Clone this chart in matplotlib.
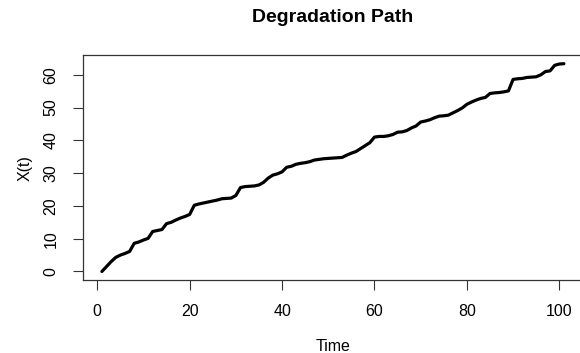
import matplotlib
matplotlib.use("Agg")
import matplotlib.pyplot as plt

time = list(range(1, 102))
x_t = [0.0, 1.5, 3.0, 4.3, 5.0, 5.5, 6.1, 8.6, 9.0, 9.6,
       10.1, 12.2, 12.5, 12.8, 14.6, 15.0, 15.7, 16.3, 16.8, 17.4,
       20.2, 20.6, 20.9, 21.2, 21.5, 21.8, 22.2, 22.3, 22.4, 23.2,
       25.6, 25.9, 26.0, 26.1, 26.4, 27.2, 28.5, 29.4, 29.8, 30.4,
       31.8, 32.1, 32.7, 33.0, 33.2, 33.5, 34.0, 34.2, 34.4, 34.5,
       34.6, 34.7, 34.8, 35.5, 36.1, 36.6, 37.5, 38.4, 39.3, 41.0,
       41.2, 41.2, 41.4, 41.8, 42.5, 42.6, 43.0, 43.8, 44.4, 45.6,
       45.9, 46.3, 46.9, 47.4, 47.5, 47.7, 48.4, 49.1, 49.9, 51.0,
       51.7, 52.3, 52.8, 53.1, 54.3, 54.5, 54.6, 54.8, 55.1, 58.6,
       58.8, 58.9, 59.2, 59.3, 59.4, 60.0, 61.0, 61.2, 62.9, 63.3,
       63.4]
xticks = [0, 20, 40, 60, 80, 100]
yticks = [0, 10, 20, 30, 40, 50, 60]

plt.rcParams['font.family'] = ['Liberation Sans', 'DejaVu Sans']

fig = plt.figure(figsize=(5.8, 3.53), dpi=100)
ax = fig.add_axes([0.1438, 0.2068, 0.8603, 0.636])
ax.plot(time, x_t, color='black', linewidth=2.3, solid_joinstyle='round', solid_capstyle='round')
ax.set_xlim(-3, 105)
ax.set_ylim(-2.6, 65.9)
ax.set_xticks(xticks)
ax.set_yticks(yticks)
ax.tick_params(axis='both', direction='out', length=7, width=0.8, color='#333333',
               labelsize=11.5)
ax.tick_params(axis='x', pad=10)
ax.tick_params(axis='y', pad=11)
for lbl in ax.get_yticklabels():
    lbl.set_rotation(90)
    lbl.set_va('center')
for s in ax.spines.values():
    s.set_color('#333333')
    s.set_linewidth(0.9)
ax.set_xlabel('Time', fontsize=11.5, labelpad=15)
ax.set_ylabel('X(t)', fontsize=11.5, labelpad=8)
fig.text(0.574, 0.950, 'Degradation Path', ha='center', va='center', fontsize=14, fontweight='bold')
fig.savefig('out.png', dpi=100)
